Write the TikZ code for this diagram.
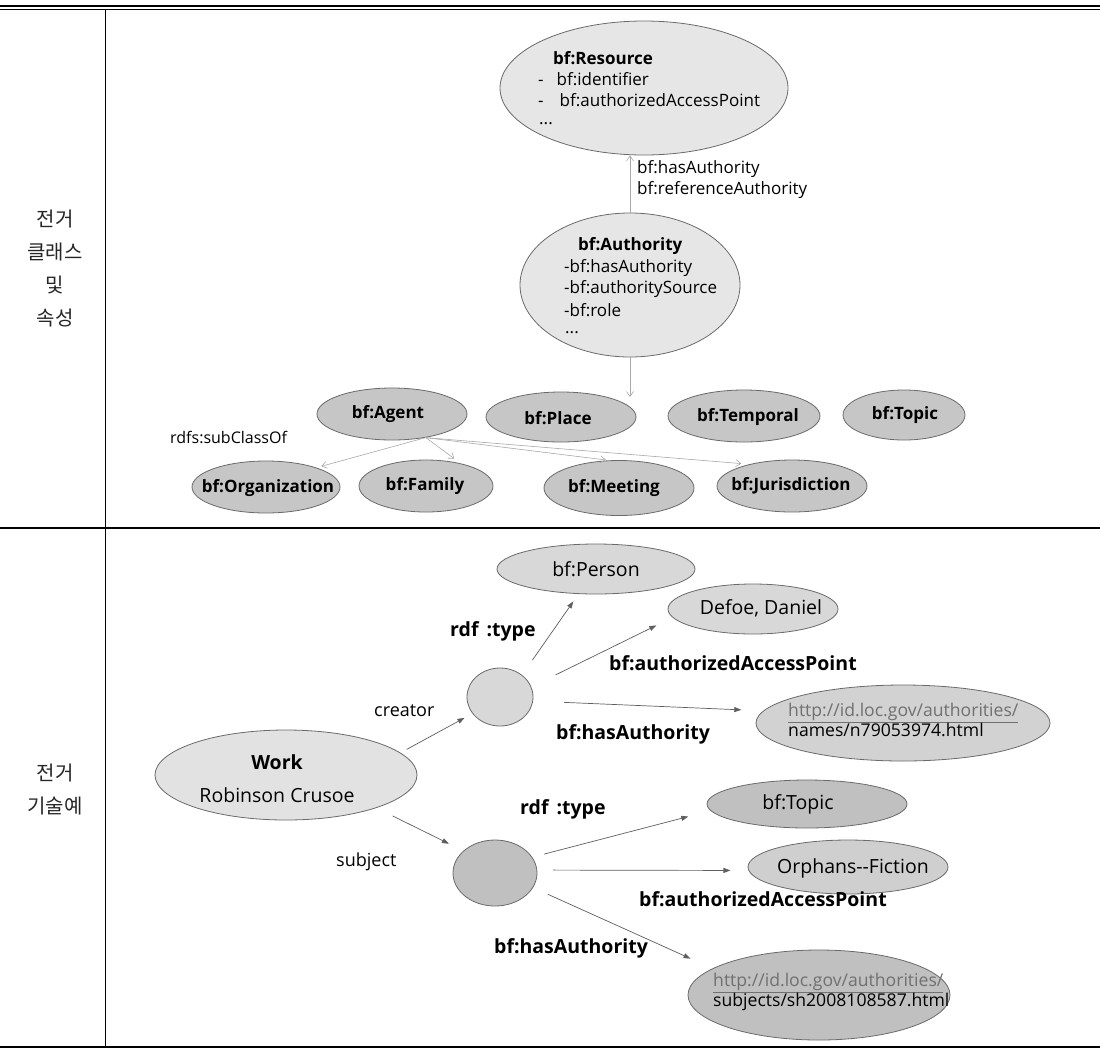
\documentclass[tikz,border=0pt]{standalone}
\usepackage{fontspec}
\setmainfont{Open Sans}
\newfontfamily\krfont{Noto Sans CJK KR}
\usetikzlibrary{arrows.meta,shapes.geometric}
\definecolor{edgegray}{HTML}{6A6A6A}
\definecolor{lightfill}{HTML}{E6E6E6}
\definecolor{workfill}{HTML}{E2E2E2}
\definecolor{clsfill}{HTML}{C6C6C6}
\definecolor{midfill}{HTML}{D8D8D8}
\definecolor{urlfill}{HTML}{D2D2D2}
\definecolor{orphfill}{HTML}{CFCFCF}
\definecolor{darkfill}{HTML}{C0C0C0}
\definecolor{uparrow}{HTML}{A8A8A8}
\definecolor{lowarrow}{HTML}{5E5E5E}
\definecolor{urlgray}{HTML}{707070}
\begin{document}
\begin{tikzpicture}[x=1pt,y=-1pt,
  ell/.style={ellipse, draw=edgegray, line width=0.8pt, inner sep=0pt},
  cls/.style={ell, fill=clsfill},
  clstxt/.style={inner sep=0pt, font=\fontsize{17}{20}\selectfont\bfseries},
  txt/.style={inner sep=0pt, font=\fontsize{17}{21}\selectfont},
  lowtxt/.style={inner sep=0pt, font=\fontsize{19.5}{23}\selectfont},
  lbl/.style={inner sep=0pt, font=\fontsize{19.5}{22}\selectfont\bfseries},
  urltxt/.style={inner sep=0pt, align=left, font=\fontsize{17.6}{18.5}\selectfont},
  kr/.style={inner sep=0pt, align=center, font=\krfont\fontsize{20}{33}\selectfont, text=black!85},
  uarr/.style={draw=uparrow, line width=0.6pt, -{Straight Barb[length=5pt,width=7pt]}},
  larr/.style={draw=lowarrow, line width=0.7pt, -{Triangle[length=7pt,width=5pt]}}
]
\useasboundingbox (0,0) rectangle (1100,1053);
% table rules
\draw[line width=2pt] (0,6) -- (1100,6);
\draw[line width=1.2pt] (0,9.6) -- (1100,9.6);
\draw[line width=1.4pt] (0,528) -- (1100,528);
\draw[line width=2.4pt] (0,1047) -- (1100,1047);
\draw[line width=1pt] (105,10) -- (105,1047);
% left labels
\node[kr] (krtop) at (55,269) {전거\\클래스\\및\\속성};
\node[kr] (krbot) at (55,789) {전거\\기술예};

% ---------- upper part ----------
\node[ell, fill=lightfill, minimum width=288pt, minimum height=134pt] (res) at (644,88) {};
\node[txt, anchor=west, font=\fontsize{17}{21}\selectfont\bfseries] (resT) at (553,58) {bf:Resource};
\node[txt, anchor=west] (resA) at (538,79) {-\hspace{13pt}bf:identifier};
\node[txt, anchor=west] (resB) at (538,100) {-\hspace{16pt}bf:authorizedAccessPoint};
\node[txt, anchor=west] (resC) at (539,124) {...};

\node[ell, fill=lightfill, minimum width=220pt, minimum height=144pt] (auth) at (630,285) {};
\node[txt, anchor=west, font=\fontsize{17}{21}\selectfont\bfseries] (authT) at (578,246) {bf:Authority};
\node[txt, anchor=west] (authA) at (564,268) {-bf:hasAuthority};
\node[txt, anchor=west] (authB) at (564,289) {-bf:authoritySource};
\node[txt, anchor=west] (authC) at (564,310) {-bf:role};
\node[txt, anchor=west] (authD) at (565,333) {...};

\draw[uarr] (auth.north) -- (auth.north |- res.south);
\node[txt, anchor=west] (hasA) at (637,169) {bf:hasAuthority};
\node[txt, anchor=west] (refA) at (637,190) {bf:referenceAuthority};
\coordinate (authend) at (630,397);
\draw[uarr] (auth.south) -- (authend);

\node[cls, minimum width=150pt, minimum height=52pt] (agent) at (392,414) {};
\node[clstxt] (agentT) at (388,414) {bf:Agent};
\node[cls, minimum width=150pt, minimum height=50pt] (place) at (561,417) {};
\node[clstxt] (placeT) at (558,418) {bf:Place};
\node[cls, minimum width=152pt, minimum height=52pt] (temporal) at (744,416) {};
\node[clstxt] (temporalT) at (748,417) {bf:Temporal};
\node[cls, minimum width=122pt, minimum height=50pt] (topicc) at (904,415) {};
\node[clstxt] (topiccT) at (905,415) {bf:Topic};
\node[cls, minimum width=148pt, minimum height=52pt] (org) at (266,487) {};
\node[clstxt] (orgT) at (268,488) {bf:Organization};
\node[cls, minimum width=134pt, minimum height=52pt] (family) at (426,486) {};
\node[clstxt] (familyT) at (425,486) {bf:Family};
\node[cls, minimum width=150pt, minimum height=55pt] (meeting) at (619,488) {};
\node[clstxt] (meetingT) at (614,488) {bf:Meeting};
\node[cls, minimum width=150pt, minimum height=52pt] (jur) at (792,486) {};
\node[clstxt] (jurT) at (791,486) {bf:Jurisdiction};
\node[txt, anchor=west, font=\fontsize{16}{20}\selectfont] (subcl) at (170,437) {rdfs:subClassOf};

\draw[uarr, shorten >=5pt] (agent.-35) -- (org.21);
\draw[uarr, shorten >=8pt] (agent.-35) -- (family.33);
\draw[uarr, shorten >=3pt] (agent.-35) -- (meeting.110);
\draw[uarr, shorten >=8pt] (agent.-35) -- (jur.153);

% ---------- lower part ----------
\node[ell, fill=workfill, minimum width=262pt, minimum height=90pt] (work) at (286,775) {};
\node[lowtxt, font=\fontsize{19.5}{23}\selectfont\bfseries] (workT) at (277,762) {Work};
\node[lowtxt] (workN) at (277,795) {Robinson Crusoe};

\node[ell, fill=midfill, minimum width=66pt, minimum height=58pt] (creator) at (500,697) {};
\node[ell, fill=midfill, minimum width=198pt, minimum height=50pt] (person) at (596,569) {};
\node[lowtxt] (personT) at (596,569) {bf:Person};
\node[ell, fill=midfill, minimum width=170pt, minimum height=50pt] (defoe) at (753,609) {};
\node[lowtxt] (defoeT) at (761,608) {Defoe, Daniel};
\node[ell, fill=urlfill, minimum width=294pt, minimum height=76pt] (url1) at (903,723) {};
\node[urltxt, anchor=west] (url1T) at (788,720) {\textcolor{urlgray}{\underline{http://id.loc.gov/authorities/}}\\names/n79053974.html};

\node[ell, fill=darkfill, minimum width=84pt, minimum height=66pt] (subject) at (495,873) {};
\node[ell, fill=darkfill, minimum width=200pt, minimum height=48pt] (topic) at (807,804) {};
\node[lowtxt] (topicT) at (798,804) {bf:Topic};
\node[ell, fill=orphfill, minimum width=200pt, minimum height=54pt] (orph) at (848,867) {};
\node[lowtxt] (orphT) at (853,868) {Orphans-{}-Fiction};
\node[ell, fill=darkfill, minimum width=262pt, minimum height=90pt] (url2) at (819,995) {};
\node[urltxt, anchor=west] (url2T) at (713,992) {\textcolor{urlgray}{\underline{http://id.loc.gov/authorities/}}\\subjects/sh2008108587.html};

\draw[larr, shorten <=7pt, shorten >=9pt] (work.11) -- (creator.211);
\draw[larr, shorten <=18pt, shorten >=9pt] (creator.45) -- (person.235);
\draw[larr, shorten <=27pt, shorten >=18pt] (creator.18) -- (defoe.186);
\draw[larr, shorten <=31pt, shorten >=22pt] (creator.-7) -- (url1.175);
\draw[larr, shorten <=18pt, shorten >=16pt] (work.-20) -- (subject.145);
\draw[larr, shorten <=12pt, shorten >=23pt] (subject.23) -- (topic.184);
\draw[larr, shorten <=16pt, shorten >=18pt] (subject.4) -- (orph.182);
\draw[larr, shorten <=16pt, shorten >=24pt] (subject.-21) -- (url2.166);

\node[lowtxt, anchor=west, font=\fontsize{18}{22}\selectfont] (creatorL) at (374,711) {creator};
\node[lowtxt, anchor=west, font=\fontsize{18}{22}\selectfont] (subjectL) at (336,862) {subject};
\node[lbl, anchor=west] (type1) at (450,631) {rdf\hspace{8pt}:type};
\node[lbl, anchor=west] (aap1) at (609,663) {bf:authorizedAccessPoint};
\node[lbl, anchor=west] (has1) at (556,734) {bf:hasAuthority};
\node[lbl, anchor=west] (type2) at (520,809) {rdf\hspace{8pt}:type};
\node[lbl, anchor=west] (aap2) at (639,899) {bf:authorizedAccessPoint};
\node[lbl, anchor=west] (has2) at (494,948) {bf:hasAuthority};
\end{tikzpicture}
\end{document}
